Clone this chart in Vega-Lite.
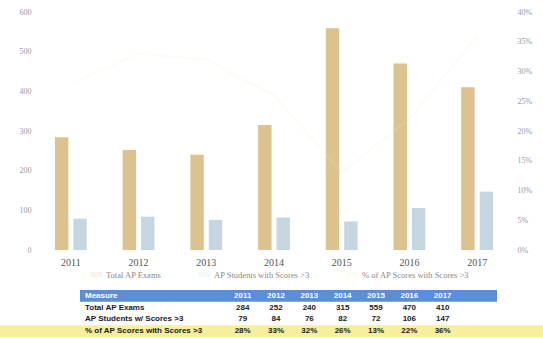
{
  "$schema": "https://vega.github.io/schema/vega-lite/v6.json",
  "padding": {"left": 0, "top": 8, "right": 0, "bottom": 0},
  "background": "white",
  "spacing": 11,
  "config": {"view": {"stroke": null}, "font": "Liberation Serif"},
  "datasets": {
    "bars": [
      {"year": "2011", "series": "Total AP Exams", "value": 284},
      {"year": "2012", "series": "Total AP Exams", "value": 252},
      {"year": "2013", "series": "Total AP Exams", "value": 240},
      {"year": "2014", "series": "Total AP Exams", "value": 315},
      {"year": "2015", "series": "Total AP Exams", "value": 559},
      {"year": "2016", "series": "Total AP Exams", "value": 470},
      {"year": "2017", "series": "Total AP Exams", "value": 410},
      {"year": "2011", "series": "AP Students with Scores >3", "value": 79},
      {"year": "2012", "series": "AP Students with Scores >3", "value": 84},
      {"year": "2013", "series": "AP Students with Scores >3", "value": 76},
      {"year": "2014", "series": "AP Students with Scores >3", "value": 82},
      {"year": "2015", "series": "AP Students with Scores >3", "value": 72},
      {"year": "2016", "series": "AP Students with Scores >3", "value": 106},
      {"year": "2017", "series": "AP Students with Scores >3", "value": 147}
    ],
    "pct": [
      {"year": "2011", "pct": 0.28},
      {"year": "2012", "pct": 0.33},
      {"year": "2013", "pct": 0.32},
      {"year": "2014", "pct": 0.26},
      {"year": "2015", "pct": 0.13},
      {"year": "2016", "pct": 0.22},
      {"year": "2017", "pct": 0.36}
    ],
    "table": [
      {"row": "Measure", "col": "label", "text": "Measure"},
      {"row": "Measure", "col": "2011", "text": "2011"},
      {"row": "Measure", "col": "2012", "text": "2012"},
      {"row": "Measure", "col": "2013", "text": "2013"},
      {"row": "Measure", "col": "2014", "text": "2014"},
      {"row": "Measure", "col": "2015", "text": "2015"},
      {"row": "Measure", "col": "2016", "text": "2016"},
      {"row": "Measure", "col": "2017", "text": "2017"},
      {"row": "Total AP Exams", "col": "label", "text": "Total AP Exams"},
      {"row": "Total AP Exams", "col": "2011", "text": "284"},
      {"row": "Total AP Exams", "col": "2012", "text": "252"},
      {"row": "Total AP Exams", "col": "2013", "text": "240"},
      {"row": "Total AP Exams", "col": "2014", "text": "315"},
      {"row": "Total AP Exams", "col": "2015", "text": "559"},
      {"row": "Total AP Exams", "col": "2016", "text": "470"},
      {"row": "Total AP Exams", "col": "2017", "text": "410"},
      {"row": "AP Students w/ Scores >3", "col": "label", "text": "AP Students w/ Scores >3"},
      {"row": "AP Students w/ Scores >3", "col": "2011", "text": "79"},
      {"row": "AP Students w/ Scores >3", "col": "2012", "text": "84"},
      {"row": "AP Students w/ Scores >3", "col": "2013", "text": "76"},
      {"row": "AP Students w/ Scores >3", "col": "2014", "text": "82"},
      {"row": "AP Students w/ Scores >3", "col": "2015", "text": "72"},
      {"row": "AP Students w/ Scores >3", "col": "2016", "text": "106"},
      {"row": "AP Students w/ Scores >3", "col": "2017", "text": "147"},
      {"row": "% of AP Scores with Scores >3", "col": "label", "text": "% of AP Scores with Scores >3"},
      {"row": "% of AP Scores with Scores >3", "col": "2011", "text": "28%"},
      {"row": "% of AP Scores with Scores >3", "col": "2012", "text": "33%"},
      {"row": "% of AP Scores with Scores >3", "col": "2013", "text": "32%"},
      {"row": "% of AP Scores with Scores >3", "col": "2014", "text": "26%"},
      {"row": "% of AP Scores with Scores >3", "col": "2015", "text": "13%"},
      {"row": "% of AP Scores with Scores >3", "col": "2016", "text": "22%"},
      {"row": "% of AP Scores with Scores >3", "col": "2017", "text": "36%"}
    ]
  },
  "resolve": {"scale": {"color": "independent", "x": "independent", "y": "independent"}, "legend": {"color": "independent"}},
  "vconcat": [
    {
      "width": 474,
      "height": 238,
      "resolve": {"scale": {"y": "independent"}},
      "layer": [
        {
          "data": {"name": "bars"},
          "mark": {"type": "bar"},
          "encoding": {
            "x": {"field": "year", "type": "nominal", "scale": {"paddingInner": 0.53, "paddingOuter": 0.265},
              "axis": {"title": null, "domain": false, "ticks": false, "labelAngle": 0, "labelFontSize": 10, "labelColor": "#555555", "labelPadding": 7}},
            "xOffset": {"field": "series", "type": "nominal", "scale": {"domain": ["Total AP Exams", "AP Students with Scores >3"], "paddingInner": 0.27}},
            "y": {"field": "value", "type": "quantitative", "scale": {"domain": [0, 600]},
              "axis": {"title": null, "domain": false, "ticks": false, "grid": false, "minExtent": 37, "values": [0, 100, 200, 300, 400, 500, 600], "labelFontSize": 8, "labelColor": "#9a9a9a", "labelPadding": 6}},
            "color": {"field": "series", "type": "nominal",
              "scale": {"domain": ["Total AP Exams", "AP Students with Scores >3", "% of AP Scores with Scores >3"], "range": ["#dbc28e", "#c6d6e0", "#f6f0c4"]},
              "legend": {"title": null, "orient": "none", "legendX": 53, "legendY": 256, "direction": "horizontal", "symbolType": "M-1,-0.45H1V0.45H-1Z", "symbolSize": 150, "symbolStrokeWidth": 0, "labelOffset": 3, "labelFontSize": 8.5, "labelColor": "#8a8a8a", "columnPadding": 36, "symbolOpacity": 1}}
          }
        },
        {
          "data": {"name": "pct"},
          "mark": {"type": "line", "strokeWidth": 2, "opacity": 0.18},
          "encoding": {
            "x": {"field": "year", "type": "nominal"},
            "y": {"field": "pct", "type": "quantitative", "scale": {"domain": [0, 0.4]},
              "axis": {"orient": "right", "title": null, "domain": false, "ticks": false, "grid": false, "format": ".0%", "values": [0, 0.05, 0.1, 0.15, 0.2, 0.25, 0.3, 0.35, 0.4], "labelFontSize": 8, "labelColor": "#9a9a9a", "labelPadding": 6}},
            "color": {"datum": "% of AP Scores with Scores >3", "type": "nominal"}
          }
        }
      ]
    },
    {
      "width": 506,
      "height": 47,
      "data": {"name": "table"},
      "encoding": {
        "x": {"field": "col", "type": "nominal", "axis": null,
          "scale": {"type": "point", "domain": ["label", "g1", "g2", "g3", "g4", "2011", "2012", "2013", "2014", "2015", "2016", "2017", "end"], "padding": 0, "range": [39, 439]}},
        "y": {"field": "row", "type": "nominal", "axis": null,
          "scale": {"type": "band", "domain": ["Measure", "Total AP Exams", "AP Students w/ Scores >3", "% of AP Scores with Scores >3"], "paddingInner": 0, "paddingOuter": 0}}
      },
      "layer": [
        {
          "data": {"values": [{}]},
          "mark": {"type": "rect", "color": "#f7ef9c", "xOffset": -76, "x2Offset": 67},
          "encoding": {"x": {"datum": "label"}, "x2": {"datum": "end"}, "y": {"datum": "% of AP Scores with Scores >3"}}
        },
        {
          "data": {"values": [{}]},
          "mark": {"type": "rect", "color": "#5a8ed8", "xOffset": 4, "x2Offset": 21},
          "encoding": {"x": {"datum": "label"}, "x2": {"datum": "end"}, "y": {"datum": "Measure"}}
        },
        {
          "transform": [{"filter": "datum.col === 'label'"}],
          "mark": {"type": "text", "align": "left", "dx": 9, "font": "Liberation Sans Narrow, Liberation Sans, sans-serif", "fontWeight": "bold", "fontSize": 8},
          "encoding": {
            "text": {"field": "text"},
            "color": {"condition": {"test": "datum.row === 'Measure'", "value": "#ffffff"}, "value": "#1a1a1a"}
          }
        },
        {
          "transform": [{"filter": "datum.col !== 'label'"}],
          "mark": {"type": "text", "align": "center", "font": "Liberation Sans Narrow, Liberation Sans, sans-serif", "fontWeight": "bold", "fontSize": 8},
          "encoding": {
            "text": {"field": "text"},
            "color": {"condition": {"test": "datum.row === 'Measure'", "value": "#ffffff"}, "value": "#1a1a1a"}
          }
        }
      ]
    }
  ]
}
